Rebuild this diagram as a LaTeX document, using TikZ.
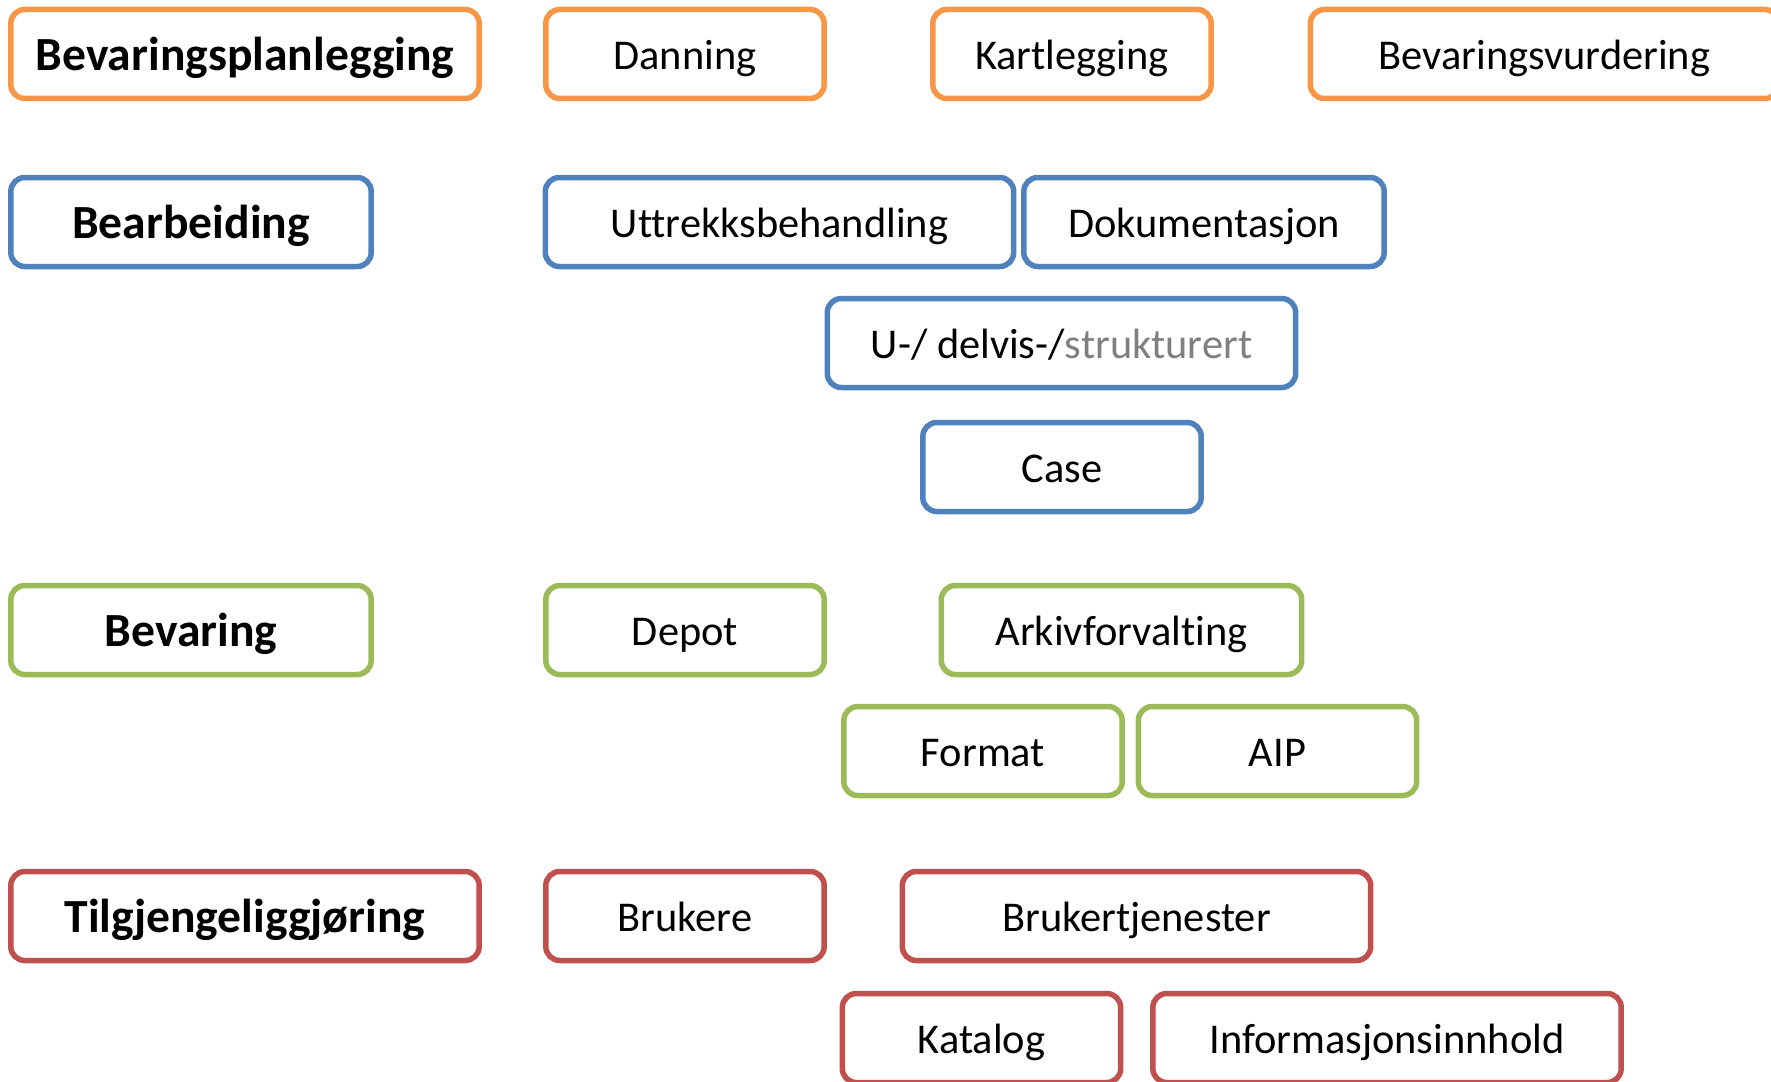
\documentclass[tikz,border=0pt]{standalone}
\usepackage{fontspec}
\setmainfont{Carlito}[Ligatures=CommonOff]
\definecolor{cOrange}{HTML}{F79646}
\definecolor{cBlue}{HTML}{4F81BD}
\definecolor{cGreen}{HTML}{9BBB59}
\definecolor{cRed}{HTML}{C0504D}
\definecolor{cGray}{HTML}{7F7F7F}
\tikzset{
  box/.style={draw, line width=2.75pt, rounded corners=7pt, fill=white, inner sep=0pt,
    minimum height=44.5pt, text height=15.6pt, text depth=0pt,
    font=\fontsize{21.2}{25}\selectfont},
  narrowbox/.style={box, minimum width=139.2pt},
  midbox/.style={box, minimum width=180.2pt},
  widebox/.style={box, minimum width=234.2pt},
  headtext/.style={font=\fontsize{23.8}{28}\selectfont\bfseries, text height=16.4pt}
}
\begin{document}
\begin{tikzpicture}[x=0.5pt,y=-0.5pt]
\useasboundingbox (0,0) rectangle (1771,1081);
% Row 1 - orange
\node[widebox, draw=cOrange, headtext] (bp) at (245,54) {Bevaringsplanlegging};
\node[narrowbox, draw=cOrange] (danning) at (685,54) {Danning};
\node[narrowbox, draw=cOrange] (kart) at (1072,54) {Kartlegging};
\node[widebox, draw=cOrange] (bvurd) at (1544.5,54) {Bevaringsvurdering};
% Blue
\node[midbox, draw=cBlue, headtext] (bearb) at (191,222) {Bearbeiding};
\node[widebox, draw=cBlue] (uttr) at (779.5,222) {Uttrekksbehandling};
\node[midbox, draw=cBlue] (dok) at (1204,222) {Dokumentasjon};
\node[widebox, draw=cBlue] (struk) at (1061.5,343) {U-/ delvis-/\textcolor{cGray}{strukturert}};
\node[narrowbox, draw=cBlue] (case) at (1062,467) {Case};
% Green
\node[midbox, draw=cGreen, headtext] (bevaring) at (191,630) {Bevaring};
\node[narrowbox, draw=cGreen] (depot) at (685,630) {Depot};
\node[midbox, draw=cGreen] (arkiv) at (1121.5,630) {Arkivforvalting};
\node[narrowbox, draw=cGreen] (format) at (983,751) {Format};
\node[narrowbox, draw=cGreen] (aip) at (1277.5,751) {AIP};
% Red
\node[widebox, draw=cRed, headtext] (tilg) at (245,916) {Tilgjengeliggjøring};
\node[narrowbox, draw=cRed] (brukere) at (685,916) {Brukere};
\node[widebox, draw=cRed] (brtj) at (1136.5,916) {Brukertjenester};
\node[narrowbox, draw=cRed] (katalog) at (981.5,1038) {Katalog};
\node[widebox, draw=cRed] (info) at (1387,1038) {Informasjonsinnhold};
\end{tikzpicture}
\end{document}
